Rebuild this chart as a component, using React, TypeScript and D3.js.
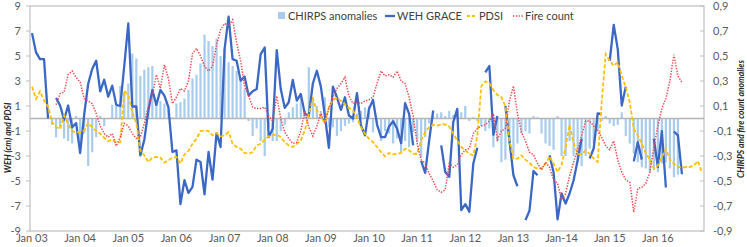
import React, { useEffect, useRef } from "react";
import * as d3 from "d3";

// monthly index 0 = Jan 2003 ... 167 = Dec 2016
const years = ["03", "04", "05", "06", "07", "08", "09", "10", "11", "12", "13", "-14", "15", "16"];

// WEH GRACE (cm), left axis, null = no data
const weh: (number | null)[] = [
  6.83, 5.29, 4.75, 4.75, 0.0, null, 1.65, 1.04, -0.1, 1.04, -0.7, -0.37,
  -2.76, 0.3, 2.76, 3.96, 4.62, 2.18, 3.1, 1.75, 2.63, 1.09, 1.0, 4.22,
  7.6, 0.96, 0.96, -2.95, -1.7, 0.64, 2.28, 1.09, 2.28, 1.83, 0.9, -2.68,
  -2.55, -6.85, -4.94, -5.95, -5.47, -3.29, -3.48, -6.06, -2.68, -4.89, -1.17, -2.28,
  5.55, 8.15, 4.75, 4.62, 3.03, 3.35, 1.83, 2.18, 2.36, 5.15, 5.68, -1.49,
  -0.82, 5.47, 2.36, 0.85, 1.3, 3.08, 1.43, 1.97, 0.37, 0.24, 2.8, 3.82,
  2.55, 0.24, -2.34, 2.55, 1.7, 0.69, 1.7, 0.24, 0.0, 2.02, -0.56, -1.35,
  0.77, 1.49, -0.48, -1.49, -1.49, -0.64, -0.21, -0.82, -1.97, 1.22, 0.37, -2.15,
  null, -3.4, -4.36, -1.75, 0.64, null, -2.15, -4.28, -4.67, -0.29, 0.77, -7.33,
  -6.85, -7.46, -3.6, -2.34, null, 3.69, 4.2, -1.3, 0.2, null, 1.0, -1.75,
  -4.54, -5.42, null, -8.13, -7.38, -4.2, -4.54, null, null, -2.95, -4.3, -8.07,
  -6.0, -6.8, -6.0, -4.94, -3.35, -1.62, null, -3.2, -2.4, 0.4, 0.37, null,
  4.62, 7.49, 5.55, 1.04, 2.55, null, -3.43, -1.89, -3.29, null, null, -1.62,
  -3.88, -1.01, -5.52, null, -1.04, -1.35, -4.46, null, null, null, null, null,
];

// PDSI, left axis
const pdsi: (number | null)[] = [
  2.55, 1.57, 2.18, 1.43, 0.96, -0.29, -0.69, -0.82, 0.24, -0.42, -1.01, -1.09,
  -1.09, -0.96, -0.37, -0.69, -1.01, -1.22, -1.54, -1.81, -1.7, -1.89, -1.9, 2.23,
  1.83, 0.5, -0.37, -2.55, -2.95, -3.48, -3.13, -3.08, -3.13, -3.53, -3.35, -3.13,
  -3.08, -3.6, -2.87, -2.6, -2.02, -1.62, -1.01, -0.96, -1.01, -1.35, -1.17, -1.43,
  -1.35, -1.09, -2.02, -2.28, -2.42, -2.76, -2.82, -2.68, -2.15, -2.02, -1.7, -1.43,
  -1.35, -1.27, -1.49, -1.89, -2.15, -2.28, -2.02, -1.75, -0.96, 0.37, 1.57, 0.64,
  0.16, -0.37, 0.9, 1.49, 1.65, 1.43, 1.12, 0.85, 0.64, 0.05, -0.69, -1.22,
  -1.62, -1.89, -2.28, -2.68, -3.03, -2.76, -2.87, -2.82, -2.76, -2.42, -2.55, -2.82,
  -2.82, -1.75, -1.09, -0.69, -0.5, -0.56, -0.48, -0.48, -0.64, -1.22, -1.75, -2.28,
  -2.55, -2.82, -2.95, -1.4, 2.6, 2.97, 2.82, 2.28, 1.89, 1.7, 0.96, -1.75,
  -3.21, -3.21, -2.95, -3.29, -3.56, -3.88, -4.01, -4.01, -3.61, -3.03, -3.61, -4.28,
  -3.7, -2.3, -0.5, -2.0, -2.82, -2.87, -2.55, -2.82, -3.21, -3.48, 1.3, 5.15,
  4.62, 4.22, 4.49, 3.43, 2.5, 1.3, -0.82, -1.35, -2.02, -2.76, -3.29, -4.01,
  -3.75, -3.08, -2.42, -3.29, -3.61, -3.88, -3.93, -3.88, -3.88, -3.75, -3.4, -4.36,
];

// Fire count anomalies, right axis
const fire: (number | null)[] = [
  null, null, null, null, null, null, 0.11, 0.2, 0.21, 0.35, 0.38, 0.33,
  0.29, 0.16, 0.14, 0.12, 0.04, -0.06, -0.12, -0.15, -0.12, -0.22, -0.15, -0.04,
  -0.06, -0.12, -0.16, -0.15, -0.04, 0.1, 0.18, 0.35, 0.24, 0.43, 0.32, 0.12,
  0.17, 0.24, 0.22, 0.3, 0.52, 0.56, 0.5, 0.42, 0.38, 0.42, 0.59, 0.71,
  0.76, 0.74, 0.79, 0.61, 0.46, 0.26, 0.18, 0.09, 0.08, 0.08, 0.09, 0.02,
  -0.02, 0.18, 0.0, -0.11, -0.16, -0.2, -0.19, -0.1, 0.06, -0.07, -0.14, -0.06,
  0.04, -0.03, 0.08, 0.17, 0.24, 0.28, 0.33, 0.18, 0.12, 0.13, 0.12, 0.14,
  0.15, 0.17, 0.28, 0.38, 0.34, 0.35, 0.33, 0.38, 0.3, 0.28, 0.17, 0.02,
  -0.2, -0.33, -0.36, -0.44, -0.5, -0.57, -0.59, -0.57, -0.36, -0.39, -0.37, -0.29,
  -0.25, -0.24, -0.12, -0.08, -0.06, -0.05, -0.02, 0.04, -0.17, -0.1, -0.08, 0.14,
  0.26, 0.04, -0.11, -0.18, -0.27, -0.29, -0.36, -0.41, -0.35, -0.39, -0.49, -0.52,
  -0.65, -0.6, -0.46, -0.35, -0.25, -0.14, -0.02, -0.02, -0.06, -0.1, -0.15, -0.22,
  -0.25, -0.18, -0.33, -0.43, -0.49, -0.51, -0.75, -0.56, -0.55, -0.52, -0.43, -0.23,
  -0.06, 0.08, 0.16, 0.3, 0.51, 0.34, 0.29, null, null, null, null, null,
];

// CHIRPS rainfall anomalies, right axis (bars)
const chirps: (number | null)[] = [
  null, null, null, null, null, -0.05, -0.15, -0.08, -0.16, -0.18, -0.2, 0.02,
  -0.2, -0.12, -0.38, -0.27, -0.15, 0.02, -0.06, 0.0, 0.11, 0.1, 0.26, 0.2,
  0.28, 0.52, 0.48, 0.34, 0.39, 0.41, 0.42, 0.14, 0.14, 0.12, 0.08, 0.01,
  0.12, 0.13, 0.16, 0.23, 0.32, 0.35, 0.44, 0.67, 0.62, 0.58, 0.64, 0.5,
  0.56, 0.45, 0.42, 0.38, 0.32, 0.24, -0.02, -0.14, -0.08, -0.18, -0.3, -0.07,
  -0.18, -0.18, -0.1, -0.05, 0.05, 0.09, 0.12, 0.17, 0.06, 0.41, 0.17, 0.1,
  0.06, 0.17, -0.07, -0.07, -0.14, -0.1, -0.06, -0.04, -0.03, 0.04, 0.06, 0.09,
  0.1, -0.11, -0.07, -0.18, -0.1, -0.12, -0.2, -0.16, -0.27, -0.18, -0.23, -0.11,
  -0.19, -0.31, -0.15, -0.04, 0.02, 0.04, 0.05, 0.02, 0.06, 0.03, 0.06, 0.05,
  0.1, -0.02, 0.01, -0.02, -0.06, -0.1, -0.08, -0.23, -0.18, -0.35, -0.33, -0.2,
  -0.3, -0.2, -0.12, -0.1, -0.12, 0.02, 0.01, -0.12, -0.2, -0.22, -0.25, 0.02,
  -0.3, -0.3, -0.18, -0.3, -0.35, -0.38, -0.3, -0.24, -0.2, -0.1, -0.02, 0.02,
  -0.04, -0.06, -0.05, 0.05, -0.14, -0.2, -0.28, -0.35, -0.39, -0.4, -0.43, -0.41,
  -0.43, -0.36, -0.35, -0.4, -0.47, -0.45, null, null, null, null, null, null,
];

const leftTicks = [-9, -7, -5, -3, -1, 1, 3, 5, 7, 9];
const rightTicks = [-0.9, -0.7, -0.5, -0.3, -0.1, 0.1, 0.3, 0.5, 0.7, 0.9];

const FONT = "Lato, 'Open Sans', sans-serif";

const App = () => {
  const svgRef = useRef<SVGSVGElement>(null);

  useEffect(() => {
    const width = 747;
    const height = 247;
    const left = 30;
    const right = 704;
    const top = 6;
    const bottom = 231;

    const svg = d3.select(svgRef.current);
    svg.selectAll("*").remove();
    svg.attr("width", width).attr("height", height);

    const months = d3.range(weh.length);
    const x = d3.scaleBand<number>().domain(months).range([left, right]);
    const cx = (i: number) => (x(i) as number) + x.bandwidth() / 2;
    const yL = d3.scaleLinear().domain([-9, 9]).range([bottom, top]);
    const yR = d3.scaleLinear().domain([-0.9, 0.9]).range([bottom, top]);

    const fmt = d3.formatLocale({ decimal: ",", thousands: ".", grouping: [3], currency: ["", ""], minus: "-" }).format(".1f");

    // plot border
    svg
      .append("rect")
      .attr("x", left)
      .attr("y", top)
      .attr("width", right - left)
      .attr("height", bottom - top)
      .attr("fill", "none")
      .attr("stroke", "#BFBFBF")
      .attr("stroke-width", 1.2);

    // left axis ticks + labels
    leftTicks.forEach((t) => {
      svg.append("line").attr("x1", left - 4).attr("x2", left).attr("y1", yL(t)).attr("y2", yL(t)).attr("stroke", "#BFBFBF");
      svg
        .append("text")
        .attr("x", 21)
        .attr("y", yL(t))
        .attr("dy", "0.35em")
        .attr("text-anchor", "end")
        .style("font-family", FONT)
        .style("font-size", "11px")
        .style("fill", "#595959")
        .text(String(t));
    });

    // right axis ticks + labels
    rightTicks.forEach((t) => {
      svg.append("line").attr("x1", right - 4).attr("x2", right).attr("y1", yR(t)).attr("y2", yR(t)).attr("stroke", "#BFBFBF");
      svg
        .append("text")
        .attr("x", 713)
        .attr("y", yR(t))
        .attr("dy", "0.35em")
        .style("font-family", FONT)
        .style("font-size", "11px")
        .style("fill", "#595959")
        .text(fmt(t));
    });

    // x labels every January
    years.forEach((yr, k) => {
      const label = yr.startsWith("-") ? "Jan" + yr : "Jan " + yr;
      svg
        .append("text")
        .attr("x", cx(k * 12))
        .attr("y", 242)
        .attr("text-anchor", "middle")
        .style("font-family", FONT)
        .style("font-size", "11px")
        .style("fill", "#595959")
        .text(label);
    });

    // CHIRPS bars
    const bw = x.bandwidth() * 0.55;
    svg
      .append("g")
      .selectAll("rect")
      .data(months.filter((i) => chirps[i] != null))
      .join("rect")
      .attr("x", (i) => cx(i) - bw / 2)
      .attr("width", bw)
      .attr("y", (i) => Math.min(yR(chirps[i] as number), yR(0)))
      .attr("height", (i) => Math.abs(yR(chirps[i] as number) - yR(0)))
      .attr("fill", "#A9CCEC");

    // zero line
    svg
      .append("line")
      .attr("x1", left)
      .attr("x2", right)
      .attr("y1", yL(0))
      .attr("y2", yL(0))
      .attr("stroke", "#B4B4B4")
      .attr("stroke-width", 1.3);

    const lineOf = (arr: (number | null)[], y: d3.ScaleLinear<number, number>) =>
      d3
        .line<number>()
        .defined((i) => arr[i] != null)
        .x((i) => cx(i))
        .y((i) => y(arr[i] as number))(months);

    svg
      .append("path")
      .attr("d", lineOf(weh, yL))
      .attr("fill", "none")
      .attr("stroke", "#3A68C4")
      .attr("stroke-width", 2.3)
      .attr("stroke-linejoin", "round");

    svg
      .append("path")
      .attr("d", lineOf(pdsi, yL))
      .attr("fill", "none")
      .attr("stroke", "#FFC000")
      .attr("stroke-width", 1.8)
      .attr("stroke-dasharray", "4 2");

    svg
      .append("path")
      .attr("d", lineOf(fire, yR))
      .attr("fill", "none")
      .attr("stroke", "#EC4A50")
      .attr("stroke-width", 1.5)
      .attr("stroke-dasharray", "1.4 1.4");

    // axis titles
    svg
      .append("text")
      .attr("transform", `translate(11, 138) rotate(-90)`)
      .attr("text-anchor", "middle")
      .style("font-family", FONT)
      .style("font-size", "8.5px")
      .style("font-weight", "bold")
      .style("font-style", "italic")
      .style("fill", "#262626")
      .text("WEH (cm) and PDSI");

    svg
      .append("text")
      .attr("transform", `translate(744, 119) rotate(-90)`)
      .attr("text-anchor", "middle")
      .style("font-family", FONT)
      .style("font-size", "8.5px")
      .style("font-weight", "bold")
      .style("font-style", "italic")
      .style("fill", "#262626")
      .text("CHIRPS and fire count anomalies");

    // legend
    const ly = 16;
    const legend = svg.append("g").style("font-family", FONT).style("font-size", "11px").style("fill", "#404040");
    legend.append("rect").attr("x", 278).attr("y", ly - 4).attr("width", 7).attr("height", 7).attr("fill", "#A9CCEC");
    legend.append("text").attr("x", 288).attr("y", ly).attr("dy", "0.35em").text("CHIRPS anomalies");
    legend.append("line").attr("x1", 385).attr("x2", 395).attr("y1", ly).attr("y2", ly).attr("stroke", "#3A68C4").attr("stroke-width", 2.3);
    legend.append("text").attr("x", 397).attr("y", ly).attr("dy", "0.35em").text("WEH GRACE");
    legend
      .append("line")
      .attr("x1", 467)
      .attr("x2", 477)
      .attr("y1", ly)
      .attr("y2", ly)
      .attr("stroke", "#FFC000")
      .attr("stroke-width", 1.8)
      .attr("stroke-dasharray", "3 2");
    legend.append("text").attr("x", 479).attr("y", ly).attr("dy", "0.35em").text("PDSI");
    legend
      .append("line")
      .attr("x1", 513)
      .attr("x2", 523)
      .attr("y1", ly)
      .attr("y2", ly)
      .attr("stroke", "#EC4A50")
      .attr("stroke-width", 1.5)
      .attr("stroke-dasharray", "1.4 1.4");
    legend.append("text").attr("x", 525).attr("y", ly).attr("dy", "0.35em").text("Fire count");
  }, []);

  return (
    <div style={{ position: "absolute", left: 0, top: 0, background: "#fff" }}>
      <svg ref={svgRef} style={{ display: "block" }}></svg>
    </div>
  );
};

export default App;
